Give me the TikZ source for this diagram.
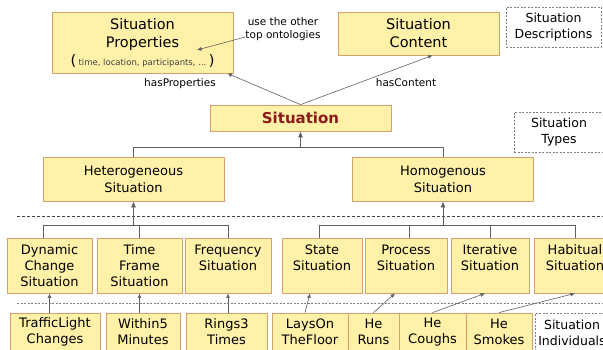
\documentclass[tikz,border=0pt]{standalone}
\usepackage{fontspec}
\setmainfont{DejaVu Sans}
\usetikzlibrary{arrows.meta}
\definecolor{boxfill}{RGB}{255,241,168}
\definecolor{boxline}{RGB}{214,160,112}
\definecolor{sitred}{RGB}{140,26,26}
\definecolor{linkgray}{RGB}{95,95,95}

\begin{document}
\begin{tikzpicture}[x=1pt,y=-1pt]
    \tikzstyle{every node}=[inner sep=0pt, align=center]
    \tikzstyle{box}=[draw=boxline, fill=boxfill, line width=0.8pt]
    \tikzstyle{topbox}=[box, font=\fontsize{14.5}{18}\selectfont]
    \tikzstyle{midbox}=[box, minimum width=181, minimum height=44, font=\fontsize{13}{17}\selectfont]
    \tikzstyle{leafbox}=[box, minimum height=55, font=\fontsize{13}{16}\selectfont]
    \tikzstyle{instbox}=[box, minimum height=38, font=\fontsize{13}{16}\selectfont]
    \tikzstyle{tag}=[draw=gray, dash pattern=on 2pt off 1.5pt, line width=0.6pt, font=\fontsize{12.5}{16}\selectfont]
    \tikzstyle{note}=[font=\fontsize{10.5}{13}\selectfont]
    \tikzstyle{link}=[draw=linkgray, line width=0.7pt]
    \tikzstyle{isa}=[link, -{Latex[length=6pt,width=5pt]}]
    \tikzstyle{ref}=[draw=linkgray, line width=0.6pt, -{Latex[length=4.5pt,width=4pt]}]
    \useasboundingbox (0,0) rectangle (603,349);

    \node[topbox, minimum width=181, minimum height=61] (props) at (142.5,42.5)
        {Situation\\Properties\\{(}\,{\fontsize{8.5}{10}\selectfont\color{darkgray}time, location, participants, ...}\,{)}};
    \node[topbox, minimum width=161, minimum height=43] (content) at (418.5,33.5) {Situation\\Content};
    \node[tag, minimum width=95, minimum height=40] (descr) at (553.5,27) {Situation\\Descriptions};
    \node[note] (other) at (283,29) {use the other\\top ontologies};
    \coordinate (otherend) at (197,50);

    \node[box, minimum width=181, minimum height=26, font=\fontsize{15}{18}\selectfont\bfseries, text=sitred] (situation) at (300.5,118) {Situation};
    \node[tag, minimum width=90, minimum height=40] (types) at (559,132) {Situation\\Types};
    \node[note] (hasprops) at (180,84) {hasProperties};
    \node[note] (hascontent) at (406,83) {hasContent};

    \node[midbox] (hetero) at (133.5,179) {Heterogeneous\\Situation};
    \node[midbox] (homo) at (443,179) {Homogenous\\Situation};

    \node[leafbox, minimum width=85] (dyn) at (49.5,265.5) {Dynamic\\Change\\Situation};
    \node[leafbox, minimum width=85] (time) at (139.5,265.5) {Time\\Frame\\Situation};
    \node[leafbox, minimum width=86] (freq) at (228,265.5) {Frequency\\Situation\\\mbox{}};
    \node[leafbox, minimum width=80] (state) at (322,265.5) {State\\Situation\\\mbox{}};
    \node[leafbox, minimum width=82] (process) at (406,265.5) {Process\\Situation\\\mbox{}};
    \node[leafbox, minimum width=78] (iter) at (490,265.5) {Iterative\\Situation\\\mbox{}};
    \node[leafbox, minimum width=82] (habit) at (575,265.5) {Habitual\\Situation\\\mbox{}};

    \node[instbox, minimum width=90] (traffic) at (55,332) {TrafficLight\\Changes};
    \node[instbox, minimum width=74] (within) at (143,332) {Within5\\Minutes};
    \node[instbox, minimum width=81] (rings) at (226.5,332) {Rings3\\Times};
    \node[instbox, minimum width=76] (lays) at (310,332) {LaysOn\\TheFloor};
    \node[instbox, minimum width=51] (runs) at (373.5,332) {He\\Runs};
    \node[instbox, minimum width=67] (coughs) at (432.5,332) {He\\Coughs};
    \node[instbox, minimum width=66] (smokes) at (499,332) {He\\Smokes};
    \node[tag, minimum width=74, minimum height=40] (indiv) at (572,333) {Situation\\Individuals};

    \draw[darkgray, line width=0.5pt, dash pattern=on 3pt off 2pt] (17,216) -- (603,216);
    \draw[gray, line width=0.9pt, dash pattern=on 2pt off 1.5pt] (17,303) -- (603,303);

    \draw[ref] (situation.north) -- ([xshift=-6pt]props.south east);
    \draw[ref] (situation.north) -- ([xshift=14pt]content.south);
    \draw[ref] ([yshift=-8pt]other.west) -- (otherend);

    \draw[isa] (hetero.north) |- ([yshift=-16pt]situation.south) -- (situation.south);
    \draw[link] (homo.north) |- ([yshift=-16pt]situation.south);

    \draw[isa] (freq.north) |- ([yshift=-24pt]hetero.south) -- (hetero.south);
    \draw[link] ([xshift=-6pt]dyn.north) |- ([yshift=-24pt]hetero.south);
    \draw[link] (time.north) -- ([yshift=13pt]time.north);

    \draw[isa] ([xshift=-3pt]state.north) |- ([yshift=-24pt]homo.south) -- (homo.south);
    \draw[link] (habit.north) |- ([yshift=-24pt]homo.south);
    \draw[link] ([xshift=3pt]process.north) -- ([xshift=3pt,yshift=13pt]process.north);
    \draw[link] (iter.north) -- ([yshift=13pt]iter.north);

    \draw[ref] (traffic.north -| dyn.south) -- (dyn.south);
    \draw[ref] (within.north -| time.south) -- (time.south);
    \draw[ref] (rings.north -| freq.south) -- (freq.south);
    \draw[ref] ([xshift=-5pt]lays.north) -- ([xshift=-12pt]state.south);
    \draw[ref] (runs.north) -- ([xshift=-11pt]process.south);
    \draw[ref] (coughs.north) -- ([xshift=-5pt]iter.south);
    \draw[ref] (smokes.north) -- (habit.south);
\end{tikzpicture}
\end{document}
